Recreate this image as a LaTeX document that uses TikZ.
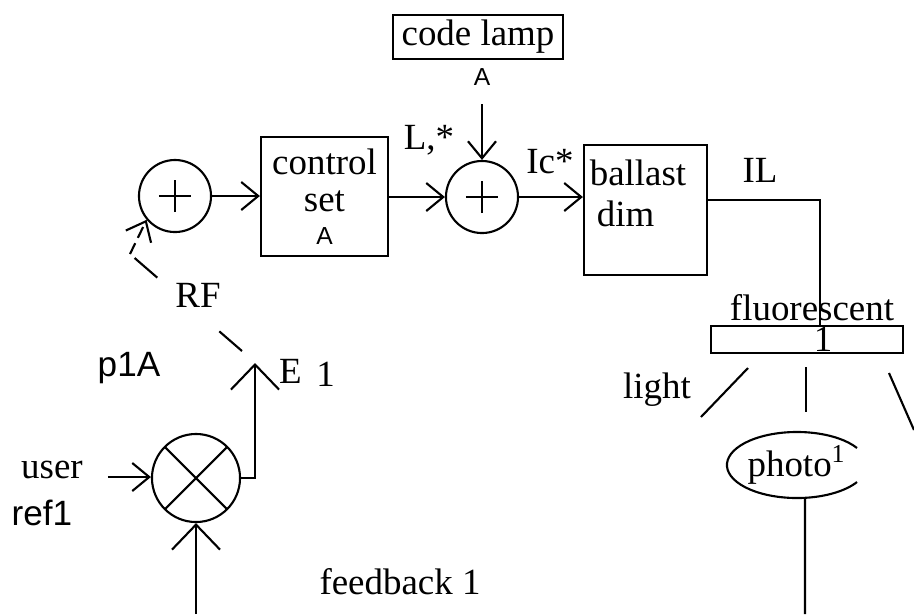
\documentclass[tikz,border=0pt]{standalone}
\usepackage{fontspec}
\setmainfont{Liberation Serif}
\newfontfamily\armfont{Liberation Sans}
\usepackage{tikz}
\usetikzlibrary{arrows.meta, positioning, calc, shapes.geometric}

\tikzset{
  blockbox/.style={draw, rectangle, inner sep=0pt},
  sumnode/.style={draw, circle, minimum size=0.72cm, inner sep=0pt,
    path picture={\draw ([xshift=-0.16cm]path picture bounding box.center) -- ([xshift=0.16cm]path picture bounding box.center)
      ([yshift=-0.16cm]path picture bounding box.center) -- ([yshift=0.16cm]path picture bounding box.center);}},
  multnode/.style={draw, circle, minimum size=0.88cm, inner sep=0pt,
    path picture={\draw (path picture bounding box.north west) -- (path picture bounding box.south east)
      (path picture bounding box.north east) -- (path picture bounding box.south west);}},
  sig/.style={-{Straight Barb[length=0.17cm, width=0.28cm]}},
  bigsig/.style={-{Straight Barb[length=0.25cm, width=0.48cm]}},
  rfdash/.style={dash pattern=on 0.3cm off 0.82cm},
  rfdashtip/.style={dash pattern=on 0.12cm off 0.06cm},
  sanslbl/.style={font=\armfont\fontsize{10}{12}\selectfont},
  tinyA/.style={font=\armfont\fontsize{7}{8}\selectfont},
}

\begin{document}
\begin{tikzpicture}[x=0.01cm, y=-0.01cm, line width=0.6pt, font=\fontsize{10.5}{12.6}\selectfont]
    \useasboundingbox (0,0) rectangle (914,614);

    \node[blockbox, minimum width=1.70cm, minimum height=0.44cm] (lamp) at (478,37) {code lamp};
    \node[tinyA] (lampA) at (482,77) {A};

    \node[sumnode] (sum1) at (175,196) {};
    \node[blockbox, minimum width=1.27cm, minimum height=1.19cm, align=center] (ctrl) at (324.5,196.5)
        {control\\[-2pt]set\\[-3.2pt]{\armfont\fontsize{7}{8}\selectfont A}};
    \draw[sig] (sum1.east) -- (sum1.east -| ctrl.west);

    \node[sumnode] (sum2) at (482,197) {};
    \node (lstar) at (429,140) {L,*};
    \draw[sig] (ctrl.east |- sum2) -- (sum2.west);
    \draw[sig, shorten <=0.06cm] (lampA.south) -- (sum2.north);

    \node[blockbox, minimum width=1.23cm, minimum height=1.30cm] (ballast) at (645.5,210) {};
    \node[align=left] (ballasttxt) at (638,193) {ballast\\[-1pt]\hspace*{0.07cm}dim};
    \node (icstar) at (550,162) {Ic*};
    \draw[sig] (sum2.east) -- (sum2.east -| ballast.west);

    \node (il) at (760,170) {IL};
    \node[blockbox, minimum width=1.92cm, minimum height=0.27cm,
        label={[inner sep=1pt, xshift=0.05cm]above:fluorescent}] (tube) at (807,339.5) {\hspace*{0.32cm}1};
    \draw ([yshift=0.1cm]ballast.east) -| ([xshift=0.13cm]tube.north);

    \draw (748,368) -- (701,417);
    \draw (806,367) -- (806,412);
    \draw (889,373) -- (914,430);
    \node (light) at (657,390) {light};

    \node[ellipse, minimum width=1.40cm, minimum height=0.66cm, inner sep=0pt] (photo) at (797,465) {photo\textsuperscript{1}};
    \draw ([shift={(31:0.70cm and 0.33cm)}]photo.center) arc[start angle=31, end angle=329, x radius=0.70cm, y radius=0.33cm];
    \coordinate (fbout) at (805,614);
    \draw ([xshift=0.08cm]photo.south) -- (fbout);
    \node (fb) at (400,582) {feedback 1};

    \node[multnode] (mult) at (196,478) {};
    \coordinate (fbin) at (196,614);
    \draw[bigsig] (fbin) -- (mult.south);
    \coordinate (uin) at (108,477);
    \draw[sig] (uin) -- (uin -| mult.west);
    \node (user) at (52,470) {user};
    \node[sanslbl] (ref) at (42,513) {ref1};
    \node[sanslbl] (p1a) at (129,368) {p1A};

    \coordinate (etip) at (255,363);
    \draw[bigsig] (mult.east) -- (etip |- mult.east) -- (etip);
    \node (e1) at (307,373) {E\hspace{0.4em}\raisebox{-1pt}{1}};

    \node (rf) at (198,295) {RF};
    \coordinate (rfs) at (242,351);
    \coordinate (rfk) at (130,254);
    \draw[rfdash] (rfs) -- (rfk);
    \draw[rfdashtip, sig] (rfk) -- (sum1.220);
\end{tikzpicture}
\end{document}
